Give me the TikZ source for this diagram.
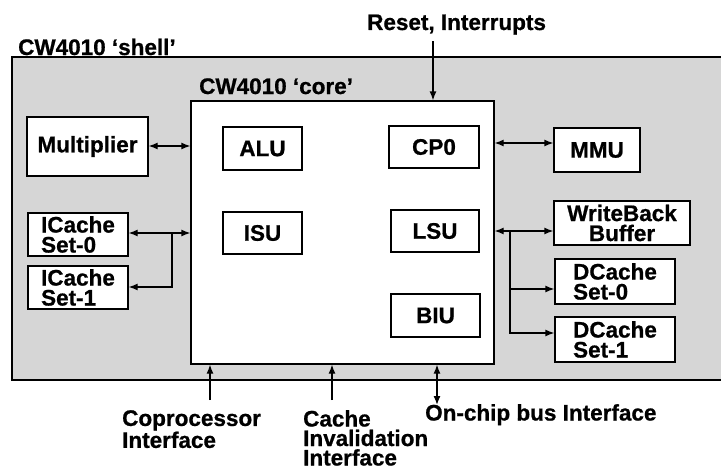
\documentclass[tikz,border=0pt]{standalone}
\usepackage{fontspec}
\setmainfont{Liberation Sans}[BoldFeatures={FakeBold=0.8}]
\usetikzlibrary{arrows.meta}
\begin{document}
\begin{tikzpicture}[x=1pt,y=-1pt,
  txt/.style={font=\fontsize{22.5}{20}\selectfont\bfseries, inner sep=0pt},
  lbl/.style={font=\fontsize{22.5}{19.5}\selectfont\bfseries, inner sep=0pt, align=left},
  blk/.style={txt, draw, fill=white, line width=1.3pt, align=left},
  con/.style={line width=1.3pt},
  tip/.style={-{Latex[length=9pt,width=7pt]}},
  dtip/.style={{Latex[length=9pt,width=7pt]}-{Latex[length=9pt,width=7pt]}}]
\useasboundingbox (0,0) rectangle (721,471);
% shell
\node[fill=black!16, inner sep=0pt, minimum width=709pt, minimum height=323pt] (shell) at (366.5,218.5) {};
\draw[line width=1.5pt] (shell.north east) -- (shell.north west) -- (shell.south west) -- (shell.south east);
\node[txt, anchor=base west] (shelllbl) at (18,55) {CW4010 ‘shell’};
% core
\node[draw, fill=white, line width=1.3pt, inner sep=0pt, minimum width=303pt, minimum height=263pt] (core) at (342.5,232.5) {};
\node[txt, anchor=base west] (corelbl) at (199,94) {CW4010 ‘core’};
% inner blocks
\node[blk, minimum width=79pt, minimum height=43pt] (alu) at (262.5,148.5) {ALU};
\node[blk, minimum width=79pt, minimum height=42pt] (isu) at (262.5,233) {ISU};
\node[blk, minimum width=90pt, minimum height=42pt] (cp0) at (434,147) {CP0};
\node[blk, minimum width=88pt, minimum height=42pt] (lsu) at (435,231) {LSU};
\node[blk, minimum width=89pt, minimum height=43pt] (biu) at (435.5,315.5) {BIU};
% outer blocks
\node[blk, minimum width=121pt, minimum height=59pt] (mult) at (87.5,146.5) {Multiplier};
\node[blk, minimum width=100pt, minimum height=43pt] (ic0) at (78,234.5) {ICache\\Set-0};
\node[blk, minimum width=100pt, minimum height=43pt] (ic1) at (78,287.5) {ICache\\Set-1};
\node[blk, minimum width=86pt, minimum height=44pt] (mmu) at (597,150) {MMU};
\node[blk, minimum width=136pt, minimum height=44pt, align=center] (wb) at (622,223) {WriteBack\\Buffer};
\node[blk, minimum width=120pt, minimum height=45pt] (dc0) at (615,281.5) {DCache\\Set-0};
\node[blk, minimum width=120pt, minimum height=45pt] (dc1) at (615,339.5) {DCache\\Set-1};
% external labels
\node[txt, anchor=base west] (reset) at (367,30) {Reset, Interrupts};
\node[lbl, anchor=north west] (copro) at (122,410) {Coprocessor\\Interface};
\node[lbl, anchor=north west] (cinv) at (303,410) {Cache\\Invalidation\\Interface};
\node[txt, anchor=north west] (bus) at (425,404) {On-chip bus Interface};
% connectors
\coordinate (rtop) at (433,41);
\draw[con, tip] (rtop) -- (rtop |- core.north);
\draw[con, dtip] (mult.east |- 0,146) -- (core.west |- 0,146);
\draw[con, dtip] (ic0.east |- 0,233) -- (core.west |- 0,233);
\coordinate (ib) at (172,233);
\draw[con, tip] (ib) |- (ic1.east |- 0,287);
\draw[con, dtip] (core.east |- 0,143) -- (mmu.west |- 0,143);
\draw[con, dtip] (core.east |- 0,231) -- (wb.west |- 0,231);
\coordinate (db) at (510,231);
\draw[con, tip] (db) |- (dc1.west |- 0,333);
\draw[con, tip] (db |- 0,289) -- (dc0.west |- 0,289);
\coordinate (cpb) at (210,400);
\draw[con, tip] (cpb) -- (cpb |- core.south);
\coordinate (cib) at (332,400);
\draw[con, tip] (cib) -- (cib |- core.south);
\coordinate (bb) at (437,405);
\draw[con, dtip] (bb |- core.south) -- (bb);
\end{tikzpicture}
\end{document}
